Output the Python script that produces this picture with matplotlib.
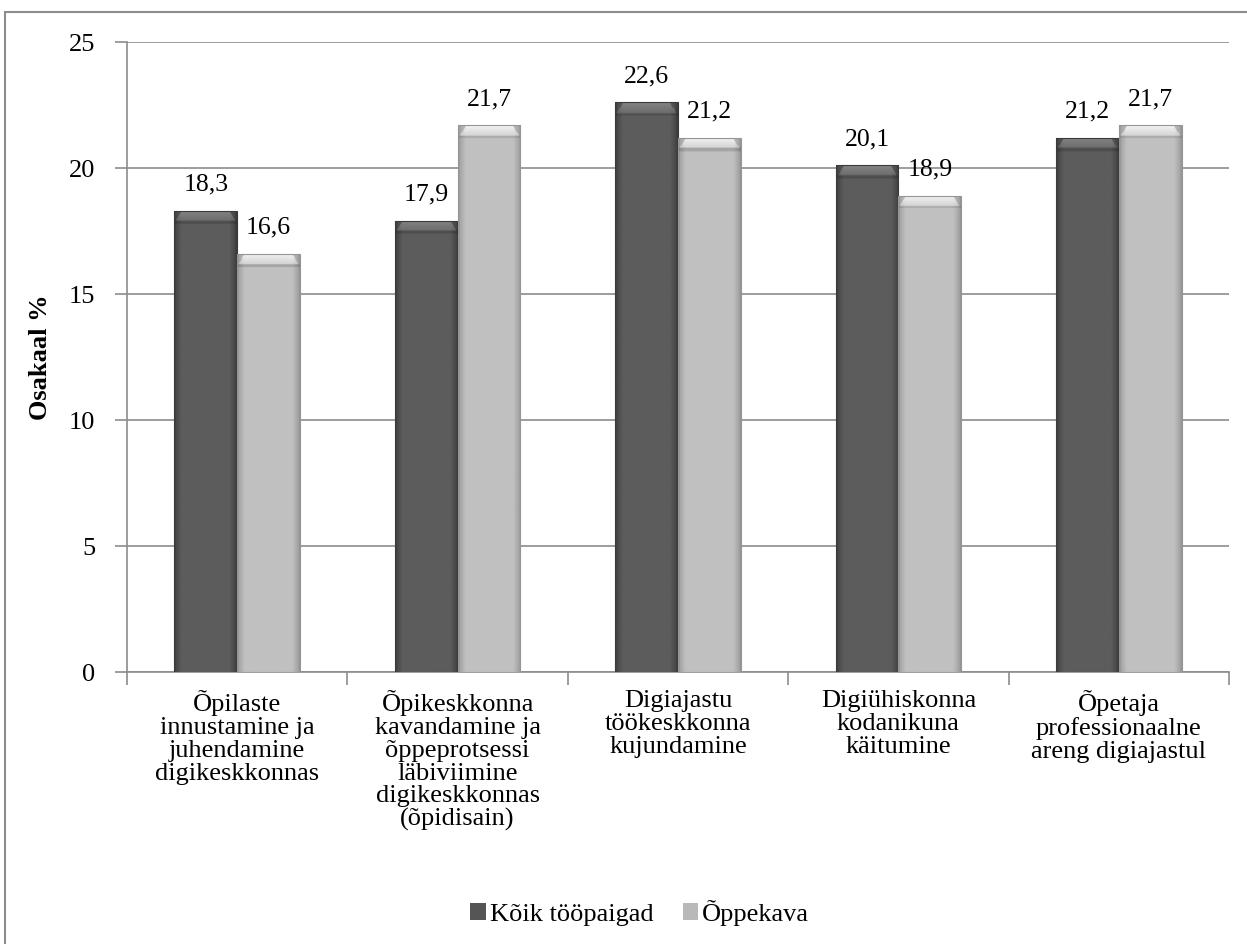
import numpy as np
import matplotlib
matplotlib.use("Agg")
import matplotlib.pyplot as plt
from matplotlib.patches import Rectangle
from matplotlib.colors import to_rgb

plt.rcParams['font.family'] = ['Liberation Serif', 'DejaVu Serif']

categories = [
    "Õpilaste\ninnustamine ja\njuhendamine\ndigikeskkonnas",
    "Õpikeskkonna\nkavandamine ja\nõppeprotsessi\nläbiviimine\ndigikeskkonnas\n(õpidisain)",
    "Digiajastu\ntöökeskkonna\nkujundamine",
    "Digiühiskonna\nkodanikuna\nkäitumine",
    "Õpetaja\nprofessionaalne\nareng digiajastul",
]
koik = [18.3, 17.9, 22.6, 20.1, 21.2]
oppekava = [16.6, 21.7, 21.2, 18.9, 21.7]
series_names = ["Kõik tööpaigad", "Õppekava"]


def bevel_image(h, edge, mid, top, band=0.4, rows=300, cols=64):
    # side shading across the bar and a light bevel band at the top
    c_edge, c_mid, c_top = (np.array(to_rgb(c)) for c in (edge, mid, top))
    t = np.linspace(0, 1, cols)
    side = np.clip(np.minimum(t, 1 - t) / 0.12, 0, 1) ** 0.7
    body = c_edge[None, :] + (c_mid - c_edge)[None, :] * side[:, None]
    img = np.repeat(body[None, :, :], rows, axis=0)
    ys = np.linspace(h, 0, rows)  # row 0 is the top of the bar
    depth = h - ys
    for i, d in enumerate(depth):
        if d < band:
            k = d / band
            inset = 0.1 * (1 - k) + 0.02
            mask = (t > inset) & (t < 1 - inset)
            mix = 0.85 * (1 - k * 0.6)
            img[i, mask] = img[i, mask] * (1 - mix) + c_top * mix
        elif d < band * 1.25:
            img[i] = img[i] * 0.85
    return img


def shade(ax, bars, edge, mid, top):
    for b in bars:
        x0, y0 = b.get_x(), b.get_y()
        w, h = b.get_width(), b.get_height()
        im = ax.imshow(bevel_image(h, edge, mid, top), extent=[x0, x0 + w, y0, y0 + h],
                       aspect="auto", zorder=3, interpolation="bilinear")
        im.set_clip_path(b)
        ax.add_patch(Rectangle((x0, y0), w, h, facecolor="none",
                               edgecolor=edge, lw=0.8, zorder=5))


fig = plt.figure(figsize=(12.47, 9.44), dpi=100)
ax = fig.add_axes([0.1018, 0.2881, 0.8838, 0.6674])

x = np.arange(len(categories))
w = 0.285
b1 = ax.bar(x - w / 2, koik, w, color="#555555", zorder=2, label=series_names[0])
b2 = ax.bar(x + w / 2, oppekava, w, color="#b9b9b9", zorder=2, label=series_names[1])
shade(ax, b1, "#3a3a3a", "#5c5c5c", "#8a8a8a")
shade(ax, b2, "#959595", "#c0c0c0", "#fafafa")

for bars, vals in ((b1, koik), (b2, oppekava)):
    for b, v in zip(bars, vals):
        ax.text(b.get_x() + b.get_width() / 2, v + 0.6, f"{v:.1f}".replace(".", ","),
                ha="center", va="bottom", fontsize=18.5)

ax.set_xlim(-0.5, len(categories) - 0.5)
ax.set_ylim(0, 25)
ax.set_yticks(range(0, 26, 5))
ax.yaxis.grid(True, color="#8c8c8c", lw=1.2, zorder=0)
ax.set_axisbelow(True)
ax.set_xticks(np.arange(len(categories) + 1) - 0.5, minor=False)
ax.set_xticklabels([])
ax.set_xticks(x, minor=True)
ax.set_xticklabels(categories, minor=True, fontsize=19, linespacing=1.05)
ax.tick_params(axis="x", which="minor", length=0, pad=13)
ax.tick_params(axis="x", which="major", length=9, color="#8c8c8c", width=1.2)
ax.tick_params(axis="y", length=9, color="#8c8c8c", width=1.2, labelsize=19, pad=14)
for s in ("top", "right"):
    ax.spines[s].set_visible(False)
for s in ("left", "bottom"):
    ax.spines[s].set_color("#8c8c8c")
    ax.spines[s].set_linewidth(1.2)
ax.set_ylabel("Osakaal %", fontsize=19, fontweight="bold", labelpad=12)

fig.legend(handles=[b1, b2], labels=series_names, loc="center",
           bbox_to_anchor=(0.513, 1 - 913 / 944), ncol=2, frameon=False,
           fontsize=19, handlelength=0.6, handleheight=0.6, handletextpad=0.15,
           columnspacing=1.1)

# outer chart frame
fig.add_artist(Rectangle((5 / 1247, -0.1), 1.2, 1 - 12 / 944 + 0.1,
                         transform=fig.transFigure, facecolor="none",
                         edgecolor="#8c8c8c", lw=1.5))

fig.savefig("out.png", dpi=100)
